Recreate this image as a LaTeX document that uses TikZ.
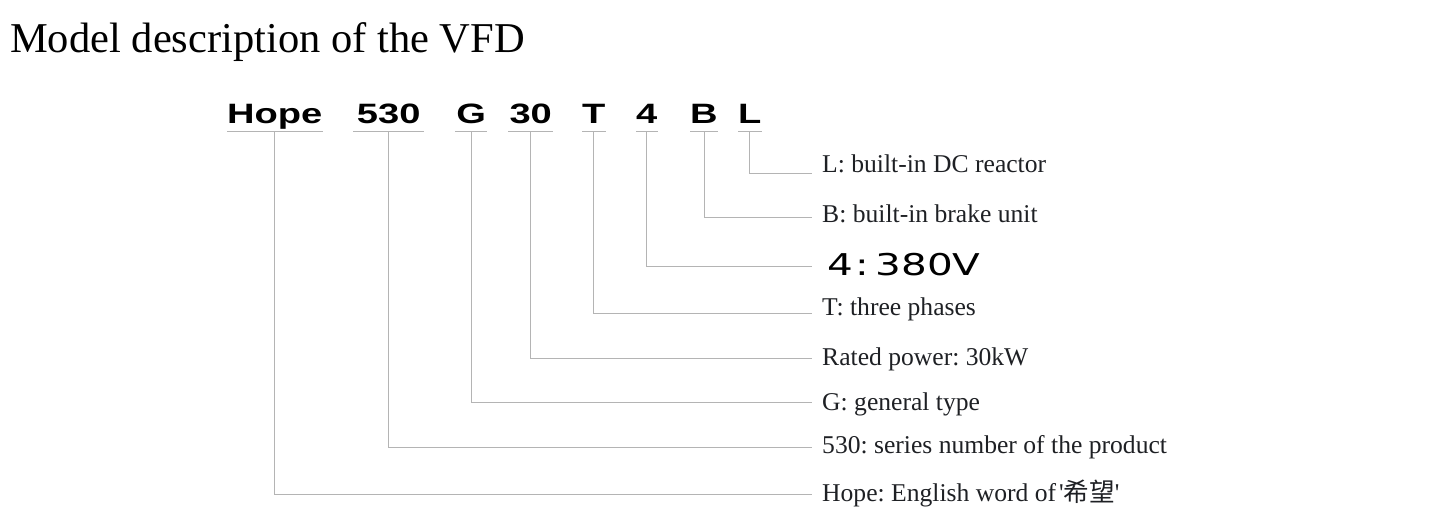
\documentclass[tikz,border=0pt]{standalone}
\usepackage{fontspec}
\setmainfont{Liberation Serif}
\newfontfamily\codefont[FakeStretch=1.36]{Liberation Sans Bold}
\newfontfamily\voltfont[FakeStretch=1.35]{DejaVu Sans}
\newfontfamily\cjk{Noto Sans CJK SC}
\usepackage{tikz}
\definecolor{leadgray}{HTML}{B4B4B4}
\definecolor{labelink}{HTML}{1E2024}
\tikzset{
  code/.style={inner sep=0pt, anchor=base west, font=\codefont\fontsize{28}{30}\selectfont},
  lbl/.style={inner sep=0pt, anchor=base west, text=labelink, font=\fontsize{25.6}{28}\selectfont},
  lead/.style={draw=leadgray, line width=0.8pt},
}

\begin{document}
\frenchspacing
\begin{tikzpicture}[x=1pt,y=-1pt]
            \useasboundingbox (0,0) rectangle (1441,519);
            \node[inner sep=0pt, anchor=base west, font=\fontsize{42.5}{46}\selectfont] (title) at (10,53) {Model description of the VFD};
            % Código
            \node[code] (hope) at (227,123) {Hope};
            \node[code, minimum width=71pt] (series) at (353,123) {530};
            \node[code, minimum width=32pt] (g) at (455,123) {G};
            \node[code, minimum width=45pt] (power) at (508,123) {30};
            \node[code] (t) at (582,123) {T};
            \node[code] (volt) at (636,123) {4};
            \node[code] (b) at (690,123) {B};
            \node[code] (l) at (738,123) {L};
            % Subrayados
            \draw[lead] ([yshift=-8.5pt]hope.base west) -- ([yshift=-8.5pt]hope.base east);
            \draw[lead] ([yshift=-8.5pt]series.base west) -- ([yshift=-8.5pt]series.base east);
            \draw[lead] ([yshift=-8.5pt]g.base west) -- ([yshift=-8.5pt]g.base east);
            \draw[lead] ([yshift=-8.5pt]power.base west) -- ([yshift=-8.5pt]power.base east);
            \draw[lead] ([yshift=-8.5pt]t.base west) -- ([yshift=-8.5pt]t.base east);
            \draw[lead] ([yshift=-8.5pt]volt.base west) -- ([yshift=-8.5pt]volt.base east);
            \draw[lead] ([yshift=-8.5pt]b.base west) -- ([yshift=-8.5pt]b.base east);
            \draw[lead] ([yshift=-8.5pt]l.base west) -- ([yshift=-8.5pt]l.base east);
            % Etiquetas
            \node[lbl] (llbl) at (822,172) {L: built-in DC reactor};
            \node[lbl] (blbl) at (822,222) {B: built-in brake unit};
            \node[inner sep=0pt, anchor=base west, font=\voltfont\fontsize{30}{33}\selectfont] (voltlbl) at (827,275) {4\kern3pt:\kern6pt380V};
            \node[lbl] (tlbl) at (822,315) {T: three phases};
            \node[lbl] (powerlbl) at (822,365) {Rated power: 30kW};
            \node[lbl] (glbl) at (822,410) {G: general type};
            \node[lbl] (serieslbl) at (822,453) {530: series number of the product};
            \node[lbl] (hopelbl) at (822,501) {Hope: English word of\kern3pt\textquotesingle{\cjk 希望}\textquotesingle};
            % Extremos
            \coordinate (lend) at (812,173);
            \coordinate (bend) at (812,217);
            \coordinate (voltend) at (812,266);
            \coordinate (tend) at (812,313);
            \coordinate (powerend) at (812,358);
            \coordinate (gend) at (812,402);
            \coordinate (seriesend) at (812,447);
            \coordinate (hopeend) at (812,494);
            % Líneas
            \draw[lead] ([yshift=-8.5pt]l.base) |- (lend);
            \draw[lead] ([yshift=-8.5pt]b.base) |- (bend);
            \draw[lead] ([yshift=-8.5pt]volt.base) |- (voltend);
            \draw[lead] ([yshift=-8.5pt]t.base) |- (tend);
            \draw[lead] ([yshift=-8.5pt]power.base) |- (powerend);
            \draw[lead] ([yshift=-8.5pt]g.base) |- (gend);
            \draw[lead] ([yshift=-8.5pt]series.base) |- (seriesend);
            \draw[lead] ([yshift=-8.5pt]hope.base) |- (hopeend);
        \end{tikzpicture}
\end{document}
